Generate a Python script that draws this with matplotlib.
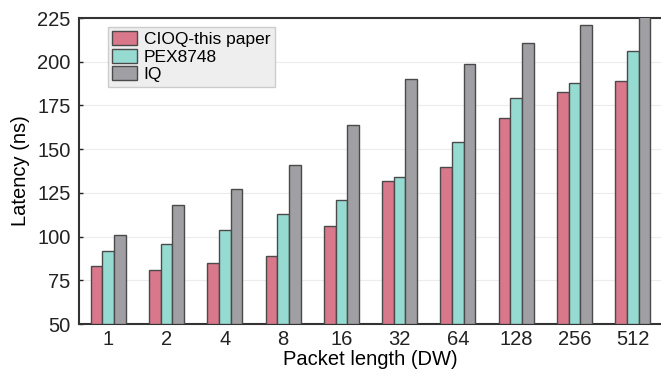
import numpy as np
import matplotlib.pyplot as plt

plt.rcParams['font.family'] = ['Liberation Sans', 'DejaVu Sans']

# packet lengths and latencies (ns)
packet_len = ['1', '2', '4', '8', '16', '32', '64', '128', '256', '512']
cioq = [83, 81, 85, 89, 106, 132, 140, 168, 183, 189]
pex8748 = [92, 96, 104, 113, 121, 134, 154, 179, 188, 206]
iq = [101, 118, 127, 141, 164, 190, 199, 211, 221, 232]

series = [('CIOQ-this paper', cioq, '#d9788b'),
          ('PEX8748', pex8748, '#96dbd2'),
          ('IQ', iq, '#a09fa3')]

fig = plt.figure(figsize=(6.61, 3.76), dpi=100)
ax = fig.add_axes([0.1195, 0.138, 0.882, 0.814])

x = np.arange(len(packet_len))
w = 0.2
for k, (name, vals, col) in enumerate(series):
    ax.bar(x + (k - 1) * w, np.array(vals) - 50, w, bottom=50, color=col,
           edgecolor='#4a4a4a', linewidth=1.0, label=name, zorder=3)

ax.set_xlim(-0.5, 9.5)
ax.set_ylim(50, 225)
ax.set_yticks(np.arange(50, 226, 25))
ax.set_xticks(x)
ax.set_xticklabels(packet_len)
ax.grid(axis='y', color='#ececec', linewidth=0.8, zorder=0)
ax.tick_params(axis='both', labelsize=14.5, length=3, width=1, colors='#222222')
ax.tick_params(axis='y', direction='in', pad=6)
ax.tick_params(axis='x', length=0, pad=4)
for s in ['left', 'bottom', 'top']:
    ax.spines[s].set_linewidth(1.5)
    ax.spines[s].set_color('#333333')
ax.spines['right'].set_visible(False)

ax.set_xlabel('Packet length (DW)', fontsize=14.5, labelpad=1)
ax.set_ylabel('Latency (ns)', fontsize=14.5, labelpad=5)

leg = ax.legend(loc='upper left', bbox_to_anchor=(0.035, 1.0), fontsize=12.5,
                frameon=True, fancybox=False, handlelength=1.4, handleheight=0.85,
                handletextpad=0.4, labelspacing=0.1, borderpad=0.25)
leg.get_frame().set_facecolor('#eeeeee')
leg.get_frame().set_edgecolor('#cccccc')
leg.get_frame().set_alpha(1)

plt.savefig('out.png', dpi=100)
